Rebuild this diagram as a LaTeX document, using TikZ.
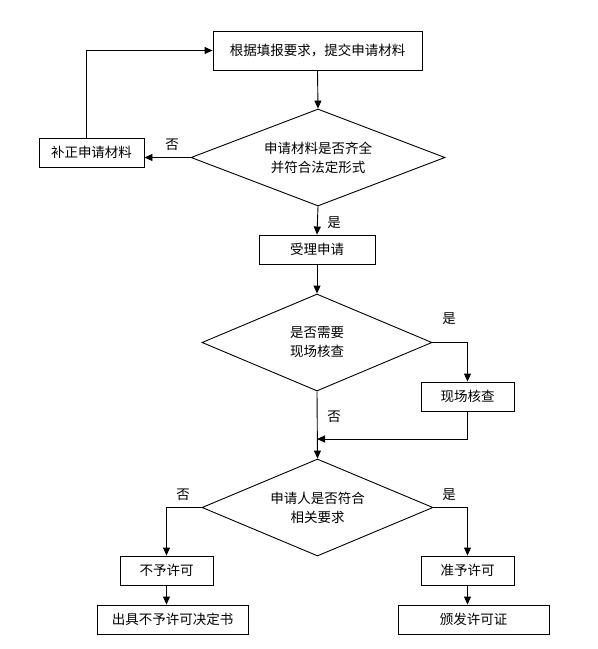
\documentclass[tikz,border=0pt]{standalone}
\usepackage{fontspec}
\newfontfamily\cjk{Noto Sans CJK SC}
\usetikzlibrary{shapes.geometric,arrows.meta}
\begin{document}
\begin{tikzpicture}[x=1pt,y=-1pt,
  every node/.style={font=\cjk\fontsize{13.5}{19}\selectfont},
  box/.style={draw,line width=0.9pt,minimum height=29pt,inner sep=0pt},
  dia/.style={draw,diamond,line width=0.9pt,shape aspect=2.6,inner sep=0pt,minimum height=97pt,align=center},
  conn/.style={line width=0.9pt,-{Triangle[length=8pt,width=7pt]}},
  lab/.style={inner sep=0pt}]
\useasboundingbox (0,0) rectangle (598,649);
\node[box,minimum width=209pt,minimum height=39pt] (b1) at (317.5,50.5) {根据填报要求，提交申请材料};
\node[dia,minimum width=254pt] (d1) at (318,157.5) {申请材料是否齐全\\并符合法定形式};
\node[box,minimum width=105pt] (bz) at (91.5,152.5) {补正申请材料};
\node[box,minimum width=116pt] (sl) at (317,249.5) {受理申请};
\node[dia,minimum width=230pt] (d2) at (317,342.5) {是否需要\\现场核查};
\node[box,minimum width=93pt] (xc) at (467.5,396.5) {现场核查};
\coordinate (j) at (317,439);
\node[dia,minimum width=231pt] (d3) at (317.5,507.5) {申请人是否符合\\相关要求};
\node[box,minimum width=93pt] (by) at (166.5,570.5) {不予许可};
\node[box,minimum width=151pt] (cj) at (172.5,619.5) {出具不予许可决定书};
\node[box,minimum width=93pt] (zy) at (467.5,570.5) {准予许可};
\node[box,minimum width=151pt] (bf) at (473.5,619.5) {颁发许可证};
\node[lab] (l1) at (172,145) {否};
\node[lab] (l2) at (334,223) {是};
\node[lab] (l3) at (449,319) {是};
\node[lab] (l4) at (334,417) {否};
\node[lab] (l5) at (183,495) {否};
\node[lab] (l6) at (449,495) {是};
\draw[conn] (b1.south) -- (d1.north);
\draw[conn] (d1.west) -- (d1.west -| bz.east);
\draw[conn] ([xshift=-5.5pt]bz.north) |- (b1.west);
\draw[conn] (d1.south) -- (sl.north);
\draw[conn] (sl.south) -- (d2.north);
\draw[conn] (d2.east) -| (xc.north);
\draw[conn] (d2.south) -- (d3.north);
\draw[conn] (xc.south) |- (j);
\draw[conn] (d3.west) -| (by.north);
\draw[conn] (d3.east) -| (zy.north);
\draw[conn] (by.south) -- (by.south |- cj.north);
\draw[conn] (zy.south) -- (zy.south |- bf.north);
\end{tikzpicture}
\end{document}
